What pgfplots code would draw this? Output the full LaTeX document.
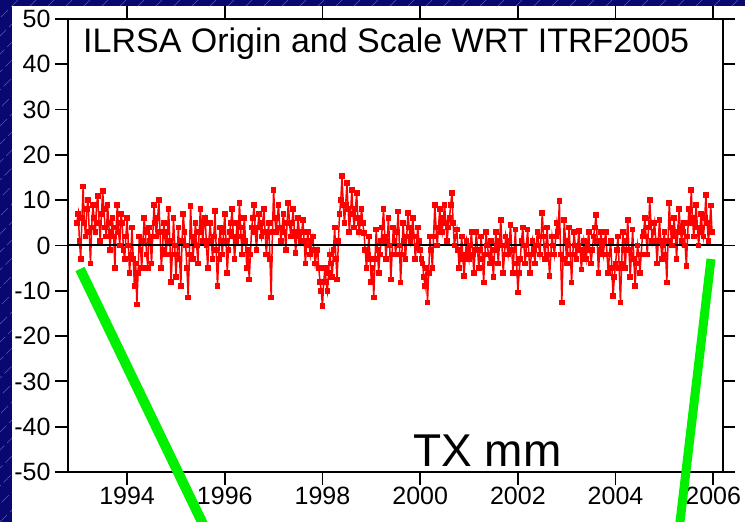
\documentclass[border=0pt]{standalone}
\usepackage{pgfplots}
\pgfplotsset{compat=1.18}
\usepackage{fontspec}
\setmainfont{Liberation Sans}
\definecolor{navybg}{RGB}{8,8,112}
\definecolor{hatch}{RGB}{90,90,180}
\definecolor{gline}{RGB}{0,240,0}
\begin{document}
\begin{tikzpicture}
\useasboundingbox (0pt,0pt) rectangle (745pt,522pt);
\fill[navybg] (0pt,0pt) rectangle (745pt,522pt);
\begin{scope}
\clip (0pt,0pt) rectangle (745pt,522pt);
\foreach \k in {0,1,...,70} {
  \draw[hatch, line width=0.5pt, dash pattern=on 10pt off 4pt] ({-540pt+\k*18pt},0pt) -- ({-18pt+\k*18pt},522pt);
}
\end{scope}
\fill[white] (12pt,0pt) rectangle (745pt,516pt);
% tick marks as filled bars
\foreach \xx in {127.1,224.8,322.5,420.2,517.8,615.5,713.2} {
  \fill[black] ({\xx*1pt-0.9pt},37pt) rectangle ({\xx*1pt+0.9pt},51pt);
  \fill[black] ({\xx*1pt-0.9pt},502pt) rectangle ({\xx*1pt+0.9pt},516pt);
}
\foreach \yy in {50,95.3,140.6,185.9,231.2,276.5,321.8,367.1,412.4,457.7,503} {
  \fill[black] (55pt,{\yy*1pt-0.9pt}) rectangle (69pt,{\yy*1pt+0.9pt});
  \fill[black] (722pt,{\yy*1pt-0.9pt}) rectangle (735pt,{\yy*1pt+0.9pt});
}
\begin{axis}[
  at={(68pt,50pt)}, anchor=south west, scale only axis,
  width=655pt, height=453pt,
  xmin=1992.79, xmax=2006.2, ymin=-50, ymax=50,
  xtick={1994,1996,1998,2000,2002,2004,2006},
  xticklabels={1994,1996,1998,2000,2002,2004,2006},
  ytick={-50,-40,-30,-20,-10,0,10,20,30,40,50},
  yticklabels={-50,-40,-30,-20,-10,0,10,20,30,40,50},
  tick align=outside, major tick length=12pt,
  axis line style={black, line width=1.8pt},
  tick style={black, line width=1.8pt},
  every tick label/.append style={font=\fontsize{25}{25}\selectfont, text=black},
  yticklabel style={xshift=-2pt},
]
\addplot[red, line width=1.5pt, mark=square*, mark size=2.1pt, mark options={solid}] table {
x y
1992.97 5
1993.00 7
1993.025 1
1993.05 -3
1993.075 6
1993.10 13
1993.125 5
1993.15 2
1993.175 8
1993.20 10
1993.225 3
1993.25 -4
1993.275 4
1993.30 9
1993.325 6
1993.35 3
1993.375 9
1993.40 11
1993.425 5
1993.45 1
1993.475 7
1993.50 12
1993.525 8
1993.55 4
1993.575 2
1993.60 9
1993.625 5
1993.65 -1
1993.675 3
1993.70 6
1993.725 2
1993.75 -5
1993.775 4
1993.80 9
1993.825 3
1993.85 0
1993.875 7
1993.90 5
1993.925 -1
1993.95 -3
1993.975 2
1994.00 6
1994.025 0
1994.05 -6
1994.075 -2
1994.10 4
1994.125 -3
1994.15 -9
1994.175 -4
1994.20 -13
1994.225 -6
1994.25 2
1994.275 -1
1994.30 -5
1994.325 1
1994.35 6
1994.375 3
1994.40 -2
1994.425 -5
1994.45 4
1994.475 1
1994.50 -4
1994.525 2
1994.55 9
1994.575 5
1994.60 2
1994.625 6
1994.65 10
1994.675 3
1994.70 -5
1994.725 -1
1994.75 5
1994.775 2
1994.80 -2
1994.825 3
1994.85 8
1994.875 1
1994.90 -8
1994.925 -2
1994.95 6
1994.975 0
1995.00 -7
1995.025 -2
1995.05 4
1995.075 -3
1995.10 -9
1995.125 1
1995.15 7
1995.175 3
1995.20 0
1995.225 -5
1995.25 -11.5
1995.275 -2
1995.30 8.7
1995.325 2
1995.35 -3
1995.375 1
1995.40 5
1995.425 0
1995.45 -4
1995.475 3
1995.50 8
1995.525 4
1995.55 1
1995.575 5
1995.60 6
1995.625 0
1995.65 -5
1995.675 1
1995.70 5
1995.725 1
1995.75 -3
1995.775 2
1995.80 7.6
1995.825 -1
1995.85 -9
1995.875 -3
1995.90 4
1995.925 1
1995.95 -2
1995.975 3
1996.00 7
1996.025 1
1996.05 -6
1996.075 -1
1996.10 3
1996.125 5
1996.15 8
1996.175 2
1996.20 -3
1996.225 1
1996.25 5
1996.275 2
1996.30 9.4
1996.325 4
1996.35 -2
1996.375 2
1996.40 6
1996.425 1
1996.45 -5
1996.475 -1
1996.50 -7.5
1996.525 -2
1996.55 4
1996.575 6
1996.60 9
1996.625 3
1996.65 -1
1996.675 4
1996.70 7
1996.725 4
1996.75 2
1996.775 5
1996.80 8
1996.825 3
1996.85 -2
1996.875 2
1996.90 5
1996.925 -3
1996.95 -11.5
1996.975 3
1997.00 12.3
1997.025 6
1997.05 3
1997.075 6
1997.10 9
1997.125 4
1997.15 1
1997.175 4
1997.20 7
1997.225 3
1997.25 -1
1997.275 5
1997.30 9.4
1997.325 5
1997.35 2
1997.375 5
1997.40 8
1997.425 3
1997.45 -1.6
1997.475 2
1997.50 6
1997.525 3
1997.55 1
1997.575 3
1997.60 5.7
1997.625 1
1997.65 -4
1997.675 0
1997.70 3
1997.725 0
1997.75 -2
1997.775 1
1997.80 2
1997.825 -1
1997.85 -4
1997.875 -2
1997.90 -1
1997.925 -5
1997.95 -8
1997.975 -10
1998.00 -13.4
1998.025 -8
1998.05 -5
1998.075 -8
1998.10 -10
1998.125 -6
1998.15 -2
1998.175 -4
1998.20 -7
1998.225 -1
1998.25 4
1998.275 -3
1998.30 -7.5
1998.325 1
1998.35 7
1998.375 10
1998.40 15.3
1998.425 9
1998.45 5
1998.475 9
1998.50 13.8
1998.525 8
1998.55 3
1998.575 7
1998.60 12.3
1998.625 7
1998.65 4
1998.675 8
1998.70 11.6
1998.725 6
1998.75 3
1998.775 5
1998.80 8
1998.825 5
1998.85 2.8
1998.875 -1
1998.90 -5
1998.925 -2
1998.95 2
1998.975 -3
1999.00 -8
1999.025 -5
1999.05 -11.5
1999.075 -3
1999.10 3.5
1999.125 -1
1999.15 -6
1999.175 -2
1999.20 1
1999.225 4
1999.25 8
1999.275 2
1999.30 -3
1999.325 1
1999.35 6
1999.375 0
1999.40 -7.5
1999.425 -2
1999.45 4
1999.475 1
1999.50 -2
1999.525 3
1999.55 7.5
1999.575 0
1999.60 -8.2
1999.625 -2
1999.65 5
1999.675 1
1999.70 -3
1999.725 2
1999.75 7.2
1999.775 4
1999.80 1
1999.825 3
1999.85 6
1999.875 2
1999.90 -3
1999.925 0
1999.95 4
1999.975 1
2000.00 -1
2000.025 -3
2000.05 -4
2000.075 -7
2000.10 -9
2000.125 -5
2000.15 -12.6
2000.175 -6
2000.20 2
2000.225 -1
2000.25 -5
2000.275 2
2000.30 9
2000.325 4
2000.35 0
2000.375 4
2000.40 8
2000.425 5
2000.45 3
2000.475 6
2000.50 9
2000.525 5
2000.55 1
2000.575 4
2000.60 6
2000.625 9
2000.65 11.6
2000.675 5
2000.70 0
2000.725 2
2000.75 3.5
2000.775 -1
2000.80 -5
2000.825 -2
2000.85 2
2000.875 -3
2000.90 -6.8
2000.925 -2
2000.95 1
2000.975 -1
2001.00 -3
2001.025 0
2001.05 3
2001.075 -2
2001.10 -6
2001.125 -1
2001.15 3
2001.175 -1
2001.20 -5
2001.225 -1
2001.25 2
2001.275 -3
2001.30 -8.2
2001.325 -2
2001.35 3
2001.375 0
2001.40 -2
2001.425 -4
2001.45 1
2001.475 -3
2001.50 -7
2001.525 -1
2001.55 3
2001.575 0
2001.60 -4
2001.625 1
2001.65 5.7
2001.675 0
2001.70 -6
2001.725 -2
2001.75 2
2001.775 0
2001.80 -2
2001.825 1
2001.85 4.5
2001.875 -1
2001.90 -6
2001.925 -1
2001.95 3.5
2001.975 -4
2002.00 -10.4
2002.025 -6
2002.05 -3
2002.075 1
2002.10 4
2002.125 0
2002.15 -4
2002.175 0
2002.20 3.5
2002.225 -2
2002.25 -6
2002.275 -2
2002.30 1
2002.325 -1
2002.35 -4
2002.375 0
2002.40 3
2002.425 0
2002.45 -2
2002.475 2
2002.50 7.2
2002.525 2
2002.55 -3
2002.575 0
2002.60 4
2002.625 -2
2002.65 -6.8
2002.675 -2
2002.70 2
2002.725 0
2002.75 -2
2002.775 2
2002.80 5
2002.825 3
2002.85 9.8
2002.875 -2
2002.90 -12.6
2002.925 -3
2002.95 5.7
2002.975 1
2003.00 -4
2003.025 0
2003.05 4
2003.075 -2
2003.10 -8.2
2003.125 -2
2003.15 3
2003.175 0
2003.20 -3
2003.225 0
2003.25 3.2
2003.275 -1
2003.30 -5.3
2003.325 -2
2003.35 1
2003.375 -1
2003.40 -3
2003.425 0
2003.45 3
2003.475 -1
2003.50 -4
2003.525 -1
2003.55 2
2003.575 4
2003.60 6.8
2003.625 1
2003.65 -6
2003.675 -1
2003.70 3
2003.725 0
2003.75 -2
2003.775 1
2003.80 3
2003.825 -2
2003.85 -6
2003.875 -2
2003.90 1
2003.925 -5
2003.95 -11.2
2003.975 -7
2004.00 -4
2004.025 -1
2004.05 2
2004.075 -5
2004.10 -12.6
2004.125 -4
2004.15 3
2004.175 -1
2004.20 -5
2004.225 1
2004.25 5.7
2004.275 -1
2004.30 -7
2004.325 -2
2004.35 3.5
2004.375 -3
2004.40 -9
2004.425 -4
2004.45 0
2004.475 -2
2004.50 -6
2004.525 -2
2004.55 2
2004.575 3
2004.60 6
2004.625 2
2004.65 -2
2004.675 4
2004.70 10
2004.725 5
2004.75 1
2004.775 3
2004.80 5
2004.825 1
2004.85 -4
2004.875 1
2004.90 5.7
2004.925 1
2004.95 -3
2004.975 0
2005.00 3
2005.025 -2
2005.05 -8.2
2005.075 1
2005.10 9.4
2005.125 4
2005.15 0
2005.175 3
2005.20 6
2005.225 2
2005.25 -3
2005.275 3
2005.30 8
2005.325 4
2005.35 1
2005.375 3
2005.40 5
2005.425 0
2005.45 -4.5
2005.475 2
2005.50 8
2005.525 5
2005.55 12.3
2005.575 6
2005.60 2
2005.625 5
2005.65 9
2005.675 4
2005.70 0
2005.725 3
2005.75 7
2005.775 4
2005.80 2
2005.825 6
2005.85 11.2
2005.875 5
2005.90 1
2005.925 4
2005.95 8.8
2005.975 3
};
\addplot[black, line width=2pt] coordinates {(1992.79,0) (2006.2,0)};
\end{axis}
\fill[black] (67pt,49pt) rectangle (69pt,504pt);
\fill[black] (722pt,49pt) rectangle (724pt,504pt);
\fill[black] (67pt,49pt) rectangle (724pt,51pt);
\fill[black] (67pt,502pt) rectangle (724pt,504pt);
\node[anchor=base west, inner sep=0pt, font=\fontsize{34}{34}\selectfont] at (83pt,469pt) {ILRSA Origin and Scale WRT ITRF2005};
\node[anchor=base west, inner sep=0pt, font=\fontsize{46}{46}\selectfont] at (413pt,55pt) {TX mm};
\begin{scope}
\clip (0pt,0pt) rectangle (745pt,522pt);
\draw[gline, line width=10pt] (80pt,253pt) -- (202pt,0pt) -- (207pt,-10pt);
\draw[gline, line width=9pt] (711pt,263pt) -- (680pt,0pt) -- (679pt,-10pt);
\end{scope}
\end{tikzpicture}
\end{document}
